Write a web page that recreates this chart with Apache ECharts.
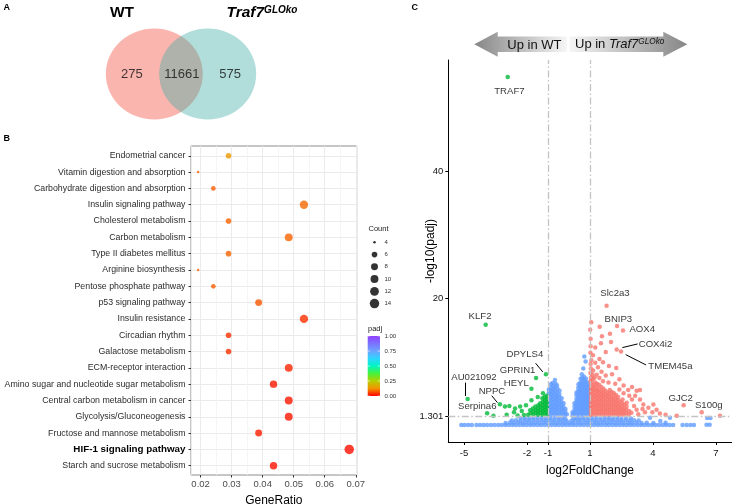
<!DOCTYPE html>
<html><head><meta charset="utf-8">
<script src="https://cdn.jsdelivr.net/npm/echarts@6/dist/echarts.min.js"></script>
<style>html,body{margin:0;padding:0;background:#fff}#c{width:747px;height:504px}</style>
</head><body><div id="c"></div>
<script>
// ---------- Panel A: Venn ----------
const vennSets = ['WT', 'Traf7'];
const vennCounts = [275, 11661, 575]; // WT only, shared, Traf7 only

// ---------- Panel B: KEGG dot plot ----------
const pathways = ['Endometrial cancer','Vitamin digestion and absorption','Carbohydrate digestion and absorption',
 'Insulin signaling pathway','Cholesterol metabolism','Carbon metabolism','Type II diabetes mellitus',
 'Arginine biosynthesis','Pentose phosphate pathway','p53 signaling pathway','Insulin resistance',
 'Circadian rhythm','Galactose metabolism','ECM-receptor interaction','Amino sugar and nucleotide sugar metabolism',
 'Central carbon metabolism in cancer','Glycolysis/Gluconeogenesis','Fructose and mannose metabolism',
 'HIF-1 signaling pathway','Starch and sucrose metabolism'];
const geneRatios = [0.0290,0.0192,0.0241,0.0533,0.0290,0.0484,0.0290,0.0192,0.0241,0.0387,0.0533,0.0290,0.0290,0.0484,0.0435,0.0484,0.0484,0.0387,0.0679,0.0435];
const geneCounts = [6,4,5,11,6,10,6,4,5,8,11,6,6,10,9,10,10,8,14,9];
const padjValues = [0.14,0.085,0.08,0.09,0.085,0.085,0.085,0.085,0.08,0.075,0.04,0.04,0.04,0.03,0.02,0.02,0.02,0.025,0.012,0.015];
const legendCounts = [4,6,8,10,12,14];
const padjTicks = [1.00,0.75,0.50,0.25,0.00];
const padjColors = ['#FF0000','#F39200','#B5D000','#48F23A','#00F5C4','#2ED5FF','#6CA2FF','#7B72FF','#8F40FF'];

// ---------- Panel C: volcano ----------
const volcanoNS = [
 [-5.13,0],[-4.97,0],[-4.8,0],[-4.63,0],
 [-4.41,0],[-4.24,0],[-4.07,0],[-3.9,0],[-3.72,0],[-3.55,0],[-3.37,0],[-3.2,0],[-3.03,0],[-2.86,0],[-2.69,0],[-2.52,0],[-2.35,0],[-2.18,0],[-2.01,0],[-1.84,0],[-1.67,0],[-1.5,0],[-1.33,0],[-1.16,0],[-0.99,0],[-0.82,0],[-0.65,0],[-0.48,0],[-0.31,0],[-0.14,0],[0.03,0],[0.2,0],[0.37,0],[0.54,0],[0.71,0],[0.88,0],[1.05,0],[1.22,0],[1.39,0],[1.56,0],[1.73,0],[1.9,0],[2.07,0],[2.24,0],[2.41,0],[2.58,0],[2.75,0],[2.92,0],[3.09,0],[3.26,0],[3.43,0],[3.6,0],[3.77,0],[3.94,0],[4.11,0],[4.28,0],[4.45,0],[4.62,0],[4.79,0],[4.96,0],
 [5.41,0],[5.6,0],[5.78,0],[5.95,0],[6.55,0.02],[6.7,0.02],
 [3.86,1.12],[4.81,1.14],[6.58,1.08],[6.74,1.1],[4.35,0.6],[4.6,0.35],
 [-3.02,0.31],[-2.81,0.36],[-2.62,0.29],[-2.41,0.38],[-2.2,0.3],[-2.01,0.37],[-1.8,0.28],[-1.61,0.35],[-1.4,0.3],[-1.2,0.38],[-1.01,0.29],[-0.8,0.36],[-0.6,0.31],[-0.41,0.37],[-0.21,0.3],[0.0,0.34],[0.2,0.3],[0.41,0.37],[0.6,0.29],[0.8,0.36],[1.0,0.3],[1.21,0.38],[1.4,0.31],[1.6,0.36],[1.81,0.29],[2.0,0.37],[2.21,0.3],[2.4,0.36],[2.6,0.31],[2.81,0.35],[3.0,0.29],[3.22,0.36],[3.45,0.3],[3.7,0.34],[4.02,0.3],
 [-2.72,0.68],[-2.52,0.74],[-2.31,0.67],[-2.11,0.75],[-1.9,0.69],[-1.7,0.76],[-1.5,0.68],[-1.3,0.74],[-1.1,0.7],[-0.9,0.77],[-0.7,0.69],[-0.5,0.75],[-0.3,0.7],[-0.12,0.66],[0.12,0.66],[0.3,0.72],[0.5,0.68],[0.7,0.75],[0.9,0.69],[1.1,0.76],[1.3,0.7],[1.5,0.74],[1.7,0.68],[1.9,0.76],[2.1,0.7],[2.3,0.75],[2.5,0.68],[2.7,0.74],[2.9,0.7],[3.1,0.73],[3.32,0.68],
 [-2.3,1.04],[-2.1,1.1],[-1.9,1.02],[-1.7,1.09],[-1.5,1.03],[-1.3,1.1],[-1.1,1.04],[-0.9,1.11],[-0.7,1.03],[-0.5,1.1],[-0.32,1.04],[-0.18,1.0],[0.2,1.02],[0.35,1.08],[0.52,1.03],[0.7,1.1],[0.9,1.04],[1.1,1.1],[1.3,1.03],[1.5,1.09],[1.7,1.04],[1.9,1.1],[2.1,1.03],[2.3,1.08],[2.5,1.02],[2.72,1.07],[2.95,1.0],
 [-0.96,1.6],[-0.96,2.1],[-0.96,2.6],[-0.96,3.1],[-0.96,3.6],[-0.96,4.1],[-0.96,4.6],[-0.96,5.1],[-0.96,5.6],
 [-0.86,1.85],[-0.86,2.35],[-0.86,2.85],[-0.86,3.35],[-0.86,3.85],[-0.86,4.35],[-0.86,4.85],[-0.86,5.35],[-0.86,5.85],[-0.86,6.4],
 [-0.76,1.6],[-0.76,2.1],[-0.76,2.6],[-0.76,3.1],[-0.76,3.6],[-0.76,4.1],[-0.76,4.6],[-0.76,5.1],[-0.76,5.6],[-0.76,6.1],[-0.78,6.6],
 [-0.66,1.85],[-0.66,2.35],[-0.66,2.85],[-0.66,3.35],[-0.66,3.85],[-0.66,4.35],[-0.66,4.85],[-0.66,5.35],[-0.66,5.85],[-0.64,6.5],[-0.67,7.1],
 [-0.56,1.6],[-0.56,2.1],[-0.56,2.6],[-0.56,3.1],[-0.56,3.6],[-0.56,4.1],[-0.56,4.6],[-0.56,5.1],[-0.55,5.7],[-0.57,6.2],
 [-0.46,1.85],[-0.46,2.35],[-0.46,2.85],[-0.46,3.35],[-0.46,3.85],[-0.46,4.35],[-0.46,4.85],[-0.45,5.4],
 [-0.36,1.6],[-0.36,2.1],[-0.36,2.6],[-0.36,3.1],[-0.36,3.6],[-0.35,4.2],
 [-0.27,1.85],[-0.27,2.35],[-0.27,2.85],[-0.26,3.4],
 [-0.18,1.6],[-0.18,2.1],[-0.17,2.5],[-0.1,1.7],
 [0.17,1.6],[0.17,2.0],
 [0.26,1.85],[0.26,2.4],[0.26,2.9],[0.26,3.4],
 [0.35,1.6],[0.35,2.1],[0.35,2.6],[0.35,3.1],[0.35,3.6],[0.35,4.1],[0.35,4.7],[0.36,5.1],
 [0.44,1.85],[0.44,2.35],[0.44,2.85],[0.44,3.35],[0.44,3.85],[0.44,4.35],[0.44,4.85],[0.44,5.35],[0.44,5.85],[0.45,6.4],
 [0.53,1.6],[0.53,2.1],[0.53,2.6],[0.53,3.1],[0.53,3.6],[0.53,4.1],[0.53,4.6],[0.53,5.1],[0.53,5.6],[0.53,6.1],[0.53,6.6],[0.55,7.3],
 [0.62,1.85],[0.62,2.35],[0.62,2.85],[0.62,3.35],[0.62,3.85],[0.62,4.35],[0.62,4.85],[0.62,5.35],[0.62,5.85],[0.62,6.35],[0.62,6.85],[0.63,7.4],[0.61,8.0],
 [0.71,1.6],[0.71,2.1],[0.71,2.6],[0.71,3.1],[0.71,3.6],[0.71,4.1],[0.71,4.6],[0.71,5.1],[0.71,5.6],[0.71,6.1],[0.71,6.6],[0.71,7.1],[0.72,7.6],[0.68,8.9],[0.73,10.8],
 [0.8,1.85],[0.8,2.35],[0.8,2.85],[0.8,3.35],[0.8,3.85],[0.8,4.35],[0.8,4.85],[0.8,5.35],[0.8,5.85],[0.8,6.35],[0.8,6.85],[0.81,7.3],[0.79,10.0],
 [0.89,1.6],[0.89,2.1],[0.89,2.6],[0.89,3.1],[0.89,3.6],[0.89,4.1],[0.89,4.6],[0.89,5.1],[0.89,5.6],[0.89,6.1],[0.9,6.6],
 [0.97,1.85],[0.97,2.35],[0.97,2.85],[0.97,3.35],[0.97,3.85],[0.97,4.35],[0.97,4.85],[0.97,5.5],[0.96,6.2]
];
const volcanoDown = [
 [-2.92,54.9],[-3.97,15.8],[-1.10,8.0],[-1.57,7.4],[-1.79,5.7],[-4.83,4.1],[-3.90,1.83],[-3.29,3.25],
 [-3.05,2.9],[-2.84,3.0],[-2.97,1.6],[-2.57,2.6],[-2.33,2.9],[-2.62,2.0],[-2.25,2.2],[-2.05,3.1],[-1.79,3.9],[-1.49,4.4],[-1.24,5.0],[-2.45,1.5],[-2.15,1.55],[-3.6,1.45],
 [-1.05,1.6],[-1.05,2.1],[-1.05,2.6],[-1.05,3.1],[-1.05,3.6],[-1.05,4.1],[-1.06,4.6],
 [-1.15,1.85],[-1.15,2.35],[-1.15,2.85],[-1.15,3.35],[-1.15,3.85],[-1.16,4.4],
 [-1.25,1.6],[-1.25,2.1],[-1.25,2.6],[-1.25,3.1],[-1.25,3.6],[-1.27,4.2],
 [-1.36,1.85],[-1.36,2.35],[-1.36,2.85],[-1.37,3.4],
 [-1.47,1.6],[-1.47,2.1],[-1.47,2.6],[-1.46,3.1],
 [-1.58,1.85],[-1.58,2.35],[-1.6,2.9],
 [-1.7,1.6],[-1.7,2.1],[-1.72,2.6],
 [-1.83,1.85],[-1.85,2.3],[-1.95,1.6]
];
const volcanoUp = [
 [1.79,18.8],[2.29,15.6],[2.57,14.9],[2.27,11.9],[2.48,11.6],[1.46,15.5],[1.57,14.0],[1.25,12.2],
 [3.38,5.5],[3.22,5.4],[2.82,5.5],[3.0,4.0],[3.38,4.0],[3.54,3.2],[3.78,2.7],[4.02,3.2],[4.17,2.4],[4.33,1.8],[3.62,2.0],[3.22,2.4],[3.97,2.0],[5.13,1.45],[5.46,3.1],[6.32,1.98],[7.19,1.45],[3.1,3.0],[3.3,1.7],[3.5,2.5],[2.6,5.0],[2.4,5.6],[3.0,6.0],[4.6,1.6],[2.75,3.5],[3.15,4.6],
 [1.04,1.6],[1.04,2.1],[1.04,2.6],[1.04,3.1],[1.04,3.6],[1.04,4.1],[1.04,4.6],[1.04,5.1],[1.04,5.6],[1.04,6.1],[1.04,6.6],[1.03,7.0],[1.05,7.5],[1.02,8.2],[1.04,8.9],[1.03,9.6],[1.06,10.2],[1.02,11.4],[1.03,12.4],[1.03,13.6],[1.01,15.0],[1.06,16.2],
 [1.13,1.85],[1.13,2.35],[1.13,2.85],[1.13,3.35],[1.13,3.85],[1.13,4.35],[1.13,4.85],[1.13,5.35],[1.13,5.85],[1.13,6.35],[1.14,7.2],[1.12,7.9],[1.15,8.6],[1.14,11.0],
 [1.23,1.6],[1.23,2.1],[1.23,2.6],[1.23,3.1],[1.23,3.6],[1.23,4.1],[1.23,4.6],[1.23,5.1],[1.23,5.6],[1.23,6.1],[1.24,6.7],[1.22,7.5],[1.25,9.8],
 [1.33,1.85],[1.33,2.35],[1.33,2.85],[1.33,3.35],[1.33,3.85],[1.33,4.35],[1.33,4.85],[1.33,5.35],[1.33,5.85],[1.34,6.5],[1.32,7.9],[1.38,9.1],
 [1.43,1.6],[1.43,2.1],[1.43,2.6],[1.43,3.1],[1.43,3.6],[1.43,4.1],[1.43,4.6],[1.43,5.1],[1.43,5.6],[1.44,6.3],[1.45,7.4],[1.45,10.4],
 [1.53,1.85],[1.53,2.35],[1.53,2.85],[1.53,3.35],[1.53,3.85],[1.53,4.35],[1.53,4.85],[1.53,5.35],[1.54,6.0],[1.55,8.4],[1.52,12.9],
 [1.63,1.6],[1.63,2.1],[1.63,2.6],[1.63,3.1],[1.63,3.6],[1.63,4.1],[1.63,4.6],[1.63,5.1],[1.64,5.7],[1.62,6.9],[1.62,9.9],
 [1.73,1.85],[1.73,2.35],[1.73,2.85],[1.73,3.35],[1.73,3.85],[1.73,4.35],[1.73,4.85],[1.73,5.4],[1.75,7.8],[1.75,11.5],
 [1.83,1.6],[1.83,2.1],[1.83,2.6],[1.83,3.1],[1.83,3.6],[1.83,4.1],[1.83,4.6],[1.84,5.1],[1.88,6.7],
 [1.93,1.85],[1.93,2.35],[1.93,2.85],[1.93,3.35],[1.93,3.85],[1.93,4.35],[1.93,4.9],[1.94,5.5],[1.9,9.3],[1.95,14.4],
 [2.03,1.6],[2.03,2.1],[2.03,2.6],[2.03,3.1],[2.03,3.6],[2.03,4.1],[2.03,4.6],[2.04,5.2],[2.05,8.0],[2.0,13.1],
 [2.13,1.85],[2.13,2.35],[2.13,2.85],[2.13,3.35],[2.13,3.85],[2.13,4.35],[2.14,5.0],
 [2.23,1.6],[2.23,2.1],[2.23,2.6],[2.23,3.1],[2.23,3.6],[2.23,4.1],[2.24,4.7],[2.2,6.5],[2.25,9.0],
 [2.33,1.85],[2.33,2.35],[2.33,2.85],[2.33,3.35],[2.33,3.9],[2.34,4.4],
 [2.43,1.6],[2.43,2.1],[2.43,2.6],[2.43,3.1],[2.44,3.7],[2.4,7.2],
 [2.53,1.85],[2.53,2.35],[2.53,2.85],[2.54,3.4],[2.55,4.0],
 [2.63,1.6],[2.63,2.1],[2.63,2.6],[2.64,3.2],[2.6,6.2],
 [2.73,1.85],[2.73,2.4],[2.74,2.9],
 [2.85,1.6],[2.86,2.2],[2.87,4.6],
 [2.97,1.9]
];
const geneLabels = ['TRAF7','KLF2','Slc2a3','BNIP3','AOX4','COX4i2','TMEM45a','DPYLS4','GPRIN1','HEYL','AU021092','NPPC','Serpina6','GJC2','S100g'];
const geneLabelX = [-2.84,-4.24,2.19,2.35,3.49,4.12,4.83,-2.10,-2.45,-2.51,-4.53,-3.67,-4.37,5.32,6.66];
const geneLabelY = [52.6,17.1,20.7,16.6,15.15,12.67,9.19,11.15,8.67,6.57,7.52,5.24,2.88,4.25,3.10];
const arrowFrom = [[-4.92,6.67],[-3.68,4.61],[-1.59,9.73],[3.27,12.78],[3.67,9.46]];
const arrowTo = [[-4.92,4.57],[-3.41,3.51],[-1.25,8.36],[2.54,12.2],[2.7,11.09]];
const volcanoXTicks = [-5,-2,-1,1,4,7];
const volcanoYTicks = [1.301,20,40];

const FONT = 'Liberation Sans, Arial, sans-serif';
const sizeFn = c => 2.5 + 7 * Math.sqrt((c - 4) / 10);

const chart = echarts.init(document.getElementById('c'), null, {renderer: 'canvas'});

const barGradient = new echarts.graphic.LinearGradient(0, 1, 0, 0,
  padjColors.map((c, i) => ({offset: i / (padjColors.length - 1), color: c})));

const graphics = [
  {type:'text', x:3.5, y:3, style:{text:'A', font:'bold 9px '+FONT, fill:'#000'}},
  {type:'text', x:3.5, y:134, style:{text:'B', font:'bold 9px '+FONT, fill:'#000'}},
  {type:'text', x:411.5, y:3, style:{text:'C', font:'bold 9px '+FONT, fill:'#000'}},
  {type:'text', x:122, y:21, style:{text:'WT', font:'bold 15.5px '+FONT, fill:'#000', align:'center', verticalAlign:'bottom'}},
  {type:'text', x:226.5, y:21, style:{text:'{a|Traf7}{s|GLOko}', verticalAlign:'bottom',
     rich:{a:{font:'italic bold 15.5px '+FONT, fill:'#000'}, s:{font:'italic bold 10px '+FONT, fill:'#000', verticalAlign:'top'}}}},
  // arrow header
  {type:'polygon', shape:{points:[[474.3,44.2],[497.7,31.7],[497.7,36.5],[567,36.5],[567,52],[497.7,52],[497.7,56.7]]},
    style:{fill:new echarts.graphic.LinearGradient(0,0,1,0,[{offset:0,color:'#868686'},{offset:1,color:'#f6f6f6'}])}},
  {type:'polygon', shape:{points:[[569.5,36.5],[663.3,36.5],[663.3,31.7],[687.3,44.2],[663.3,56.7],[663.3,52],[569.5,52]]},
    style:{fill:new echarts.graphic.LinearGradient(0,0,1,0,[{offset:0,color:'#f6f6f6'},{offset:1,color:'#868686'}])}},
  {type:'text', x:561.5, y:45, style:{text:'Up in WT', font:'13px '+FONT, fill:'#111', align:'right', verticalAlign:'middle'}},
  {type:'text', x:575, y:51, style:{text:'{a|Up in }{b|Traf7}{s|GLOko}', verticalAlign:'bottom',
     rich:{a:{font:'13px '+FONT, fill:'#111'}, b:{font:'italic 13px '+FONT, fill:'#111'}, s:{font:'italic 8.2px '+FONT, fill:'#111', verticalAlign:'top'}}}},
  // legends
  {type:'text', x:368.5, y:229, style:{text:'Count', font:'7.5px '+FONT, fill:'#222', verticalAlign:'middle'}},
  {type:'text', x:368, y:329, style:{text:'padj', font:'7.5px '+FONT, fill:'#222', verticalAlign:'middle'}},
  {type:'rect', shape:{x:367.7, y:336, width:12.3, height:60}, style:{fill:barGradient}}
];
padjTicks.forEach(v => {
  graphics.push({type:'text', x:384.5, y:336 + (1 - v) * 60, style:{text:v.toFixed(2), font:'6px '+FONT, fill:'#333', verticalAlign:'middle'}});
  graphics.push({type:'line', shape:{x1:367.7, y1:336 + (1 - v) * 60, x2:370, y2:336 + (1 - v) * 60}, style:{stroke:'#fff', lineWidth:0.6}});
  graphics.push({type:'line', shape:{x1:377.7, y1:336 + (1 - v) * 60, x2:380, y2:336 + (1 - v) * 60}, style:{stroke:'#fff', lineWidth:0.6}});
});

const option = {
  animation: false,
  textStyle: {fontFamily: FONT},
  grid: [
    {left:100.9, top:54, width:160.2, height:40, outerBoundsMode:'none'},
    {left:191, top:146, width:165.7, height:329, show:true, borderColor:'#8c8c8c', borderWidth:1, backgroundColor:'transparent', outerBoundsMode:'none'},
    {left:191, top:155.8, width:165.7, height:309.9, outerBoundsMode:'none'},
    {left:370, top:236.2, width:9, height:73.5, outerBoundsMode:'none'},
    {left:448.3, top:60, width:283.4, height:382, outerBoundsMode:'none'}
  ],
  xAxis: [
    {gridIndex:0, type:'value', min:-1, max:2, show:false},
    {gridIndex:1, type:'value', min:0.0169, max:0.0703, name:'GeneRatio', nameLocation:'middle', nameGap:19.5, nameMoveOverlap:false,
     nameTextStyle:{fontSize:12, color:'#000'},
     axisLine:{show:false}, axisTick:{show:true, length:2.5, lineStyle:{color:'#333'}},
     axisLabel:{fontSize:9.5, color:'#4d4d4d', margin:4, showMinLabel:false, showMaxLabel:false, formatter: v => v.toFixed(2)},
     splitLine:{show:true, lineStyle:{color:'#EBEBEB', width:1}},
     minorTick:{show:false, splitNumber:2}, minorSplitLine:{show:true, lineStyle:{color:'#F3F3F3', width:0.8}}},
    {gridIndex:2, type:'value', min:0.0169, max:0.0703, show:false},
    {gridIndex:3, type:'value', min:0, max:1, show:false},
    {gridIndex:4, type:'value', min:-5.75, max:7.75, name:'log2FoldChange', nameLocation:'middle', nameGap:23, nameMoveOverlap:false,
     nameTextStyle:{fontSize:12, color:'#000'},
     axisLine:{show:true, onZero:false, lineStyle:{color:'#000', width:1}},
     axisTick:{show:true, length:3, lineStyle:{color:'#000'}, customValues:volcanoXTicks},
     axisLabel:{fontSize:9.5, color:'#111', margin:6, customValues:volcanoXTicks},
     splitLine:{show:false}}
  ],
  yAxis: [
    {gridIndex:0, type:'value', min:-1, max:1, show:false},
    {gridIndex:1, type:'value', min:0, max:1, show:false},
    {gridIndex:2, type:'category', data:pathways, inverse:true, boundaryGap:false,
     axisLine:{show:false}, axisTick:{show:true, length:2.5, lineStyle:{color:'#333'}},
     axisLabel:{fontSize:8.8, color:'#2b2b2b', margin:5.5,
       formatter: v => v === 'HIF-1 signaling pathway' ? '{b|' + v + '}' : v,
       rich:{b:{fontWeight:'bold', fontSize:9.8, color:'#000'}}},
     splitLine:{show:true, lineStyle:{color:'#EBEBEB', width:1}}},
    {gridIndex:3, type:'category', data:legendCounts.map(String), inverse:true, position:'right',
     axisLine:{show:false}, axisTick:{show:false}, axisLabel:{fontSize:6, color:'#333', margin:5.5}},
    {gridIndex:4, type:'value', min:-2.7, max:57.6, name:'-log10(padj)', nameLocation:'middle', nameGap:12, nameMoveOverlap:false,
     nameTextStyle:{fontSize:12, color:'#000'},
     axisLine:{show:true, onZero:false, lineStyle:{color:'#000', width:1}},
     axisTick:{show:true, length:3, lineStyle:{color:'#000'}, customValues:volcanoYTicks},
     axisLabel:{fontSize:9.5, color:'#111', margin:5, customValues:volcanoYTicks, formatter: v => String(v)},
     splitLine:{show:false}}
  ],
  visualMap: [{type:'continuous', show:false, seriesIndex:2, dimension:2, min:0, max:1, inRange:{color:padjColors}}],
  series: [
    {type:'scatter', xAxisIndex:0, yAxisIndex:0, symbolSize:[97,91], silent:true,
     data:[{value:[0,0], itemStyle:{color:'#F9A29A'}}, {value:[1,0], itemStyle:{color:'rgba(59,173,165,0.5)'}}]},
    {type:'scatter', xAxisIndex:0, yAxisIndex:0, symbolSize:0, silent:true,
     label:{show:true, position:'inside', fontSize:13, color:'#111', formatter: p => String(p.value[2])},
     data:[[-0.42,0,vennCounts[0]],[0.515,0,vennCounts[1]],[1.42,0,vennCounts[2]]]},
    {type:'scatter', xAxisIndex:2, yAxisIndex:2, silent:true,
     symbolSize: v => sizeFn(v[3]),
     data: pathways.map((p, i) => [geneRatios[i], p, padjValues[i], geneCounts[i]])},
    {type:'scatter', xAxisIndex:3, yAxisIndex:3, silent:true, itemStyle:{color:'#000'},
     symbolSize: v => sizeFn(v[2]),
     data: legendCounts.map(c => [0.5, String(c), c])},
    {type:'scatter', xAxisIndex:4, yAxisIndex:4, silent:true, symbolSize:4.5, itemStyle:{color:'#619CFF'},
     data: volcanoNS},
    {type:'scatter', xAxisIndex:4, yAxisIndex:4, silent:true, symbolSize:4.5, itemStyle:{color:'#00BA38'},
     data: volcanoDown},
    {type:'scatter', xAxisIndex:4, yAxisIndex:4, silent:true, symbolSize:4.5, itemStyle:{color:'#F8766D'},
     data: volcanoUp,
     markLine:{silent:true, symbol:'none', label:{show:false}, animation:false,
       lineStyle:{color:'#C4C4C4', width:1.3, type:[7,2.5,1.5,2.5]},
       data:[{xAxis:-1},{xAxis:1},{yAxis:1.301}]}},
    {type:'scatter', xAxisIndex:4, yAxisIndex:4, silent:true, symbolSize:0, z:5,
     label:{show:true, position:'inside', fontSize:9.6, color:'#000', formatter: p => p.value[2]},
     data: geneLabels.map((g, i) => [geneLabelX[i], geneLabelY[i], g]),
     markLine:{silent:true, symbol:['none','arrow'], symbolSize:[0,5.5], label:{show:false}, animation:false,
       lineStyle:{color:'#000', width:1, type:'solid'},
       data: arrowFrom.map((f, i) => [{coord:f}, {coord:arrowTo[i]}])}}
  ],
  graphic: graphics
};
chart.setOption(option);
</script></body></html>
